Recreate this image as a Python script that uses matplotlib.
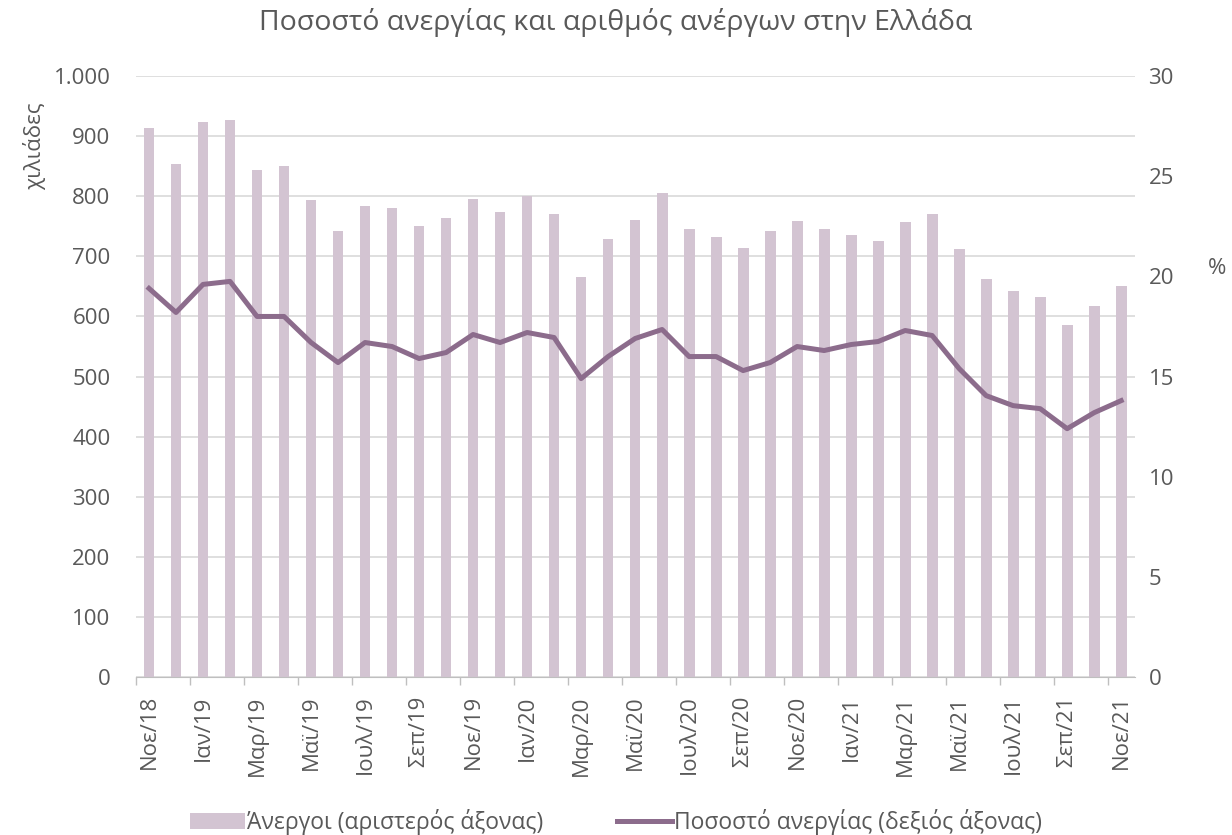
import matplotlib
matplotlib.use("Agg")
import matplotlib.pyplot as plt
from matplotlib.ticker import FixedLocator, FuncFormatter
import numpy as np

plt.rcParams['font.family'] = ['Open Sans', 'DejaVu Sans']

months = ["Νοε/18", "Δεκ/18", "Ιαν/19", "Φεβ/19", "Μαρ/19", "Απρ/19", "Μαϊ/19", "Ιουν/19",
          "Ιουλ/19", "Αυγ/19", "Σεπ/19", "Οκτ/19", "Νοε/19", "Δεκ/19", "Ιαν/20", "Φεβ/20",
          "Μαρ/20", "Απρ/20", "Μαϊ/20", "Ιουν/20", "Ιουλ/20", "Αυγ/20", "Σεπ/20", "Οκτ/20",
          "Νοε/20", "Δεκ/20", "Ιαν/21", "Φεβ/21", "Μαρ/21", "Απρ/21", "Μαϊ/21", "Ιουν/21",
          "Ιουλ/21", "Αυγ/21", "Σεπ/21", "Οκτ/21", "Νοε/21"]
unemployed = [913, 853, 924, 927, 843, 851, 794, 742, 784, 780, 751, 763, 796,
              773, 800, 771, 665, 729, 760, 805, 745, 732, 714, 742, 758,
              745, 735, 726, 757, 771, 713, 663, 642, 632, 585, 618, 650]
rate = [19.4, 18.2, 19.6, 19.75, 18.0, 18.0, 16.7, 15.7, 16.7, 16.5, 15.9, 16.2, 17.1,
        16.7, 17.2, 16.95, 14.9, 16.0, 16.9, 17.35, 16.0, 16.0, 15.3, 15.7, 16.5,
        16.3, 16.6, 16.75, 17.3, 17.05, 15.4, 14.05, 13.55, 13.4, 12.4, 13.2, 13.8]

bar_color = '#d3c4d2'
line_color = '#8c6c8c'
text_color = '#595959'

fig = plt.figure(figsize=(12.32, 8.35), dpi=100)
ax = fig.add_axes([0.11, 0.189, 0.811, 0.72])
ax2 = ax.twinx()

x = np.arange(len(months))
ax.bar(x, unemployed, width=0.4, color=bar_color, zorder=2, label='Άνεργοι (αριστερός άξονας)')
ax2.plot(x, rate, color=line_color, lw=3.6, solid_joinstyle='round',
         label='Ποσοστό ανεργίας (δεξιός άξονας)')

ax.set_xlim(-0.5, len(months) - 0.5)
ax.set_ylim(0, 1000)
ax2.set_ylim(0, 30)

ax.set_yticks(np.arange(0, 1001, 100))
ax.yaxis.set_major_formatter(FuncFormatter(lambda v, p: f"{int(v):,}".replace(",", ".")))
ax2.set_yticks(np.arange(0, 31, 5))
ax.grid(axis='y', color='#d9d9d9', lw=1.2, zorder=0)
ax.set_axisbelow(True)

ax.set_xticks(x[::2])
ax.set_xticklabels(months[::2], rotation=90)
ax.xaxis.set_minor_locator(FixedLocator(np.arange(-0.5, len(months), 2)))
ax.tick_params(axis='x', which='major', length=0, pad=13, labelsize=16, colors=text_color)
ax.tick_params(axis='x', which='minor', length=6, color='#bfbfbf', width=1)
ax.tick_params(axis='y', length=0, labelsize=16, colors=text_color, pad=18)
ax2.tick_params(axis='y', length=0, labelsize=16, colors=text_color, pad=10)

for a in (ax, ax2):
    for s in ('top', 'right', 'left'):
        a.spines[s].set_visible(False)
ax.spines['bottom'].set_color('#bfbfbf')
ax2.spines['bottom'].set_visible(False)

fig.text(0.5, 0.973, 'Ποσοστό ανεργίας και αριθμός ανέργων στην Ελλάδα',
         ha='center', va='center', fontsize=20.5, color=text_color)
fig.text(0.028, 0.825, 'χιλιάδες', rotation=90, ha='center', va='center',
         fontsize=16, color=text_color)
fig.text(0.988, 0.679, '%', ha='center', va='center', fontsize=16, color=text_color)

h1, l1 = ax.get_legend_handles_labels()
h2, l2 = ax2.get_legend_handles_labels()
fig.legend(h1 + h2, l1 + l2, loc='center', bbox_to_anchor=(0.5, 0.016), ncol=2,
           frameon=False, fontsize=16.5, labelcolor=text_color, handlelength=2.4,
           handletextpad=0.1, columnspacing=3.2)

fig.savefig('out.png', dpi=100)
